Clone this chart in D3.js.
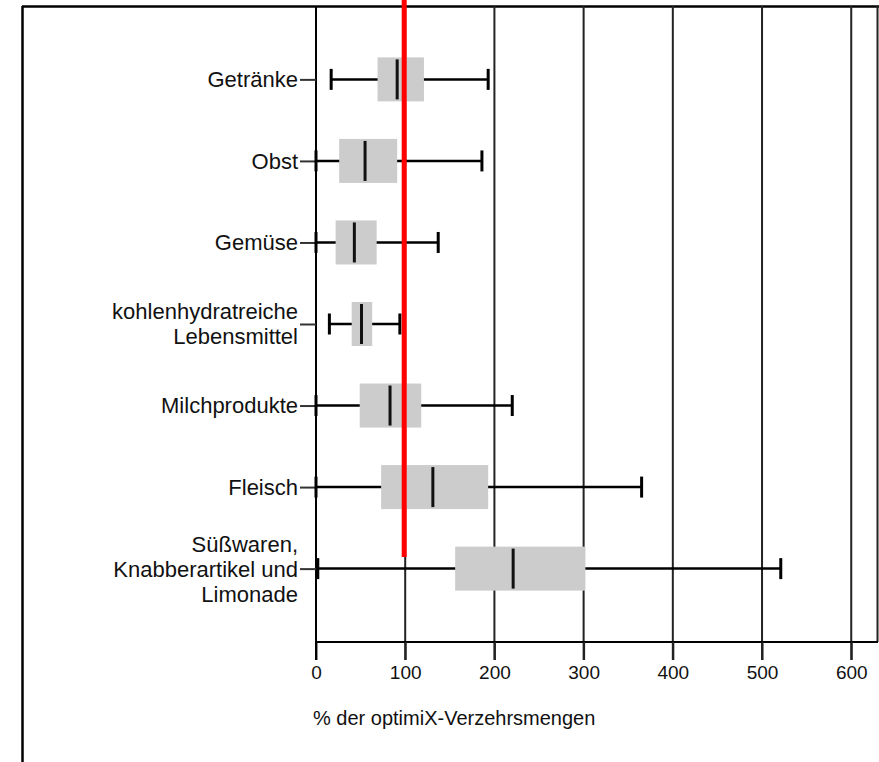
<!DOCTYPE html>
<html>
<head>
<meta charset="utf-8">
<script src="https://cdn.jsdelivr.net/npm/d3@7"></script>
<style>
  body { margin: 0; background: #fff; }
  text { font-family: "Liberation Sans", Arial, sans-serif; fill: #111; }
</style>
</head>
<body>
<div id="chart"></div>
<script>
// categories (top to bottom), lines of each label
var categories = ["Getränke", "Obst", "Gemüse", "kohlenhydratreiche Lebensmittel",
                  "Milchprodukte", "Fleisch", "Süßwaren, Knabberartikel und Limonade"];
var labelLines = [["Getränke"], ["Obst"], ["Gemüse"], ["kohlenhydratreiche", "Lebensmittel"],
                  ["Milchprodukte"], ["Fleisch"], ["Süßwaren,", "Knabberartikel und", "Limonade"]];

// box plot values (% der optimiX-Verzehrsmengen)
var whiskerLow  = [17, 0, 0, 15, 0, 0, 2];
var q1          = [69, 26, 22, 40, 49, 73, 156];
var median      = [91, 55, 43, 51, 83, 131, 221];
var q3          = [121, 91, 68, 63, 118, 193, 302];
var whiskerHigh = [193, 186, 137, 94, 220, 365, 521];

var xTicks = [0, 100, 200, 300, 400, 500, 600];
var refValue = 100;
var xTitle = "% der optimiX-Verzehrsmengen";

var width = 879, height = 762;
var plot = {left: 316, right: 878, top: 6, bottom: 642};

var svg = d3.select("#chart").append("svg")
    .attr("width", width)
    .attr("height", height);

var x = d3.scaleLinear()
    .domain([0, 630])
    .range([plot.left, plot.right]);

var y = d3.scalePoint()
    .domain(categories)
    .range([plot.top, plot.bottom])
    .padding(0.9);

var rows = categories.map(function(c, i) {
    return {cat: c, lines: labelLines[i], lo: whiskerLow[i], q1: q1[i],
            med: median[i], q3: q3[i], hi: whiskerHigh[i]};
});

// outer frame (top + left edge)
svg.append("line")
    .attr("x1", 22).attr("x2", width).attr("y1", 6.5).attr("y2", 6.5)
    .attr("stroke", "#000").attr("stroke-width", 2.5);
svg.append("line")
    .attr("x1", 22.5).attr("x2", 22.5).attr("y1", 6).attr("y2", height)
    .attr("stroke", "#000").attr("stroke-width", 2.5);

// vertical grid lines + bottom ticks
svg.append("g").selectAll("line")
    .data(xTicks.slice(1))
    .enter().append("line")
    .attr("x1", function(d) { return x(d); })
    .attr("x2", function(d) { return x(d); })
    .attr("y1", plot.top).attr("y2", plot.bottom + 18)
    .attr("stroke", "#222").attr("stroke-width", 2);

// right border of plot
svg.append("line")
    .attr("x1", plot.right - 0.5).attr("x2", plot.right - 0.5)
    .attr("y1", plot.top).attr("y2", plot.bottom)
    .attr("stroke", "#222").attr("stroke-width", 2);

// bottom axis
var xAxis = svg.append("g")
    .attr("transform", "translate(0," + plot.bottom + ")")
    .call(d3.axisBottom(x).tickValues(xTicks).tickSize(18).tickPadding(6).tickSizeOuter(0));
xAxis.select(".domain").attr("stroke", "#000").attr("stroke-width", 2)
    .attr("d", "M" + plot.left + ",0H" + plot.right);
xAxis.selectAll(".tick line").attr("stroke", "#222").attr("stroke-width", 2);
xAxis.selectAll(".tick text")
    .style("font-family", "Liberation Sans, Arial, sans-serif")
    .style("font-size", "19px").attr("fill", "#111");

// left axis
var yAxis = svg.append("g")
    .attr("transform", "translate(" + plot.left + ",0)")
    .call(d3.axisLeft(y).tickSize(16).tickFormat(""));
yAxis.select(".domain").attr("stroke", "#000").attr("stroke-width", 2)
    .attr("d", "M0," + plot.top + "V" + (plot.bottom + 18));
yAxis.selectAll(".tick line").attr("stroke", "#333").attr("stroke-width", 2);

// category labels
var labels = svg.append("g").selectAll("text")
    .data(rows)
    .enter().append("text")
    .attr("text-anchor", "end")
    .style("font-size", "22px")
    .attr("transform", function(d) { return "translate(298," + y(d.cat) + ")"; });
labels.selectAll("tspan")
    .data(function(d) { return d.lines.map(function(t, i) { return {t: t, i: i, n: d.lines.length}; }); })
    .enter().append("tspan")
    .attr("x", 0)
    .attr("y", function(d) { return (d.i - (d.n - 1) / 2) * 25; })
    .attr("dy", "0.36em")
    .text(function(d) { return d.t; });

// box plots
var boxH = 44, capH = 21;
var g = svg.append("g").selectAll("g")
    .data(rows)
    .enter().append("g")
    .attr("transform", function(d) { return "translate(0," + y(d.cat) + ")"; });

g.append("line")
    .attr("x1", function(d) { return x(d.lo); })
    .attr("x2", function(d) { return x(d.hi); })
    .attr("stroke", "#000").attr("stroke-width", 2.5);
g.append("line")
    .attr("x1", function(d) { return x(d.lo); })
    .attr("x2", function(d) { return x(d.lo); })
    .attr("y1", -capH / 2).attr("y2", capH / 2)
    .attr("stroke", "#000").attr("stroke-width", 3);
g.append("line")
    .attr("x1", function(d) { return x(d.hi); })
    .attr("x2", function(d) { return x(d.hi); })
    .attr("y1", -capH / 2).attr("y2", capH / 2)
    .attr("stroke", "#000").attr("stroke-width", 3);
g.append("rect")
    .attr("x", function(d) { return x(d.q1); })
    .attr("width", function(d) { return x(d.q3) - x(d.q1); })
    .attr("y", -boxH / 2).attr("height", boxH)
    .attr("fill", "#cccccc");
g.append("line")
    .attr("x1", function(d) { return x(d.med); })
    .attr("x2", function(d) { return x(d.med); })
    .attr("y1", -boxH / 2 + 2).attr("y2", boxH / 2 - 2)
    .attr("stroke", "#111").attr("stroke-width", 3);

// red reference line at 100 %
svg.append("line")
    .attr("x1", x(refValue) - 1).attr("x2", x(refValue) - 1)
    .attr("y1", 0).attr("y2", 557)
    .attr("stroke", "#ff0000").attr("stroke-width", 5);

// axis title
svg.append("text")
    .attr("x", plot.left - 3)
    .attr("y", 718)
    .attr("dy", "0.36em")
    .style("font-size", "20px")
    .text(xTitle);
</script>
</body>
</html>
